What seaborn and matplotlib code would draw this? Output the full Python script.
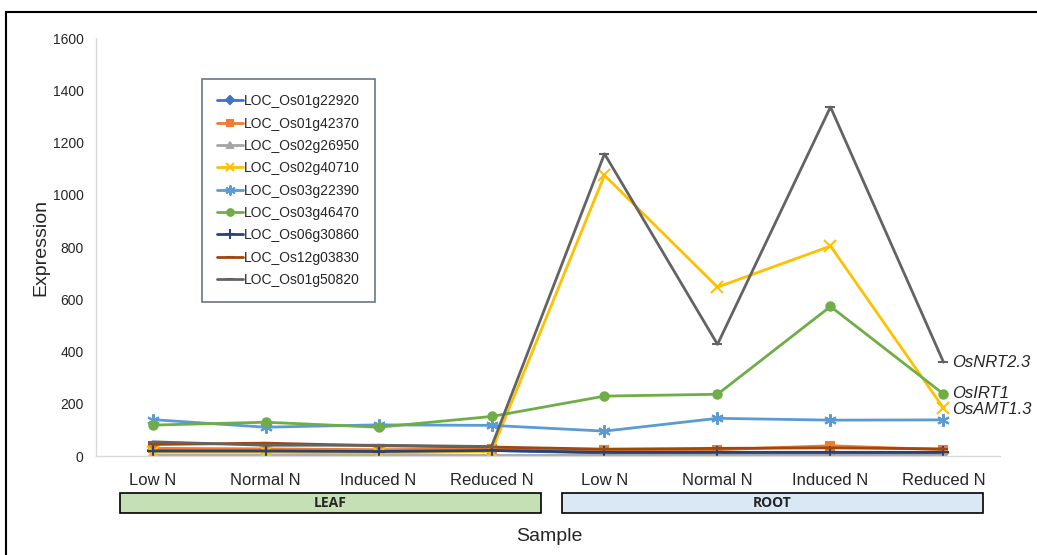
import matplotlib.pyplot as plt
import matplotlib.patches as mpatches
import seaborn as sns
import pandas as pd

sns.set_theme(style="white")
plt.rcParams['font.family'] = ['Liberation Sans', 'DejaVu Sans']

# --- Data ---
samples = ['Low N', 'Normal N', 'Induced N', 'Reduced N',
           'Low N', 'Normal N', 'Induced N', 'Reduced N']
tissues = ['LEAF', 'ROOT']

genes = ['LOC_Os01g22920', 'LOC_Os01g42370', 'LOC_Os02g26950', 'LOC_Os02g40710',
         'LOC_Os03g22390', 'LOC_Os03g46470', 'LOC_Os06g30860', 'LOC_Os12g03830',
         'LOC_Os01g50820']

os01g22920 = [22, 20, 20, 22, 12, 12, 12, 12]
os01g42370 = [30, 28, 25, 28, 25, 25, 40, 25]
os02g26950 = [4, 4, 4, 4, 4, 4, 4, 4]
os02g40710 = [15, 15, 12, 18, 1075, 647, 804, 184]
os03g22390 = [140, 111, 120, 118, 96, 145, 138, 139]
os03g46470 = [119, 130, 111, 152, 230, 237, 573, 238]
os06g30860 = [20, 20, 18, 22, 15, 15, 15, 15]
os12g03830 = [45, 50, 40, 35, 27, 30, 32, 28]
os01g50820 = [55, 42, 42, 37, 1157, 428, 1336, 360]

values = [os01g22920, os01g42370, os02g26950, os02g40710, os03g22390,
          os03g46470, os06g30860, os12g03830, os01g50820]

colors = ['#4472C4', '#ED7D31', '#A5A5A5', '#FFC000', '#5B9BD5',
          '#70AD47', '#264478', '#9E480E', '#636363']
markers = ['D', 's', '^', 'x', (6, 2, 0), 'o', '+', '_', '_']
msizes = [5, 6, 6, 8, 9, 6, 9, 7, 7]

# gene name annotations at the right end
notes = [('OsNRT2.3', 360), ('OsIRT1', 240), ('OsAMT1.3', 178)]

rows = []
for g, v in zip(genes, values):
    for i, val in enumerate(v):
        rows.append({'gene': g, 'pos': i, 'Expression': val})
df = pd.DataFrame(rows)

fig = plt.figure(figsize=(10.37, 5.55), dpi=100)
ax = fig.add_axes([0.0926, 0.178, 0.8717, 0.7535])

for g, c, m, ms in zip(genes, colors, markers, msizes):
    sns.lineplot(data=df[df['gene'] == g], x='pos', y='Expression', ax=ax,
                 color=c, marker=m, markersize=ms, linewidth=2,
                 markeredgecolor=c, markeredgewidth=1.5, label=g)

ax.set_xlim(-0.5, 7.5)
ax.set_ylim(0, 1600)
ax.set_yticks(range(0, 1601, 200))
ax.set_xticks(range(len(samples)))
ax.set_xticklabels(samples, fontsize=12)
ax.tick_params(axis='x', length=0, pad=12)
ax.tick_params(axis='y', length=0, labelsize=10, pad=9)
for s in ['top', 'right']:
    ax.spines[s].set_visible(False)
for s in ['left', 'bottom']:
    ax.spines[s].set_color('#D9D9D9')
    ax.spines[s].set_linewidth(1)
ax.set_xlabel('')
ax.set_ylabel('Expression', fontsize=14, labelpad=2)

# tissue group boxes
for t, x0, fc in zip(tissues, [-0.29, 3.62], ['#C5E0B4', '#DAE8F5']):
    box = mpatches.Rectangle((x0, -0.135), 3.73, 0.047, transform=ax.get_xaxis_transform(),
                             facecolor=fc, edgecolor='black', linewidth=1.2, clip_on=False)
    ax.add_patch(box)
    ax.text(x0 + 3.73 / 2, -0.112, t, transform=ax.get_xaxis_transform(),
            ha='center', va='center', fontsize=10, fontweight='bold',
            family=['Open Sans', 'DejaVu Sans'])

fig.text(0.53, 0.033, 'Sample', ha='center', va='center', fontsize=14)

for name, y in notes:
    ax.text(7.08, y, name, ha='left', va='center', fontsize=12, style='italic')

leg = ax.legend(loc='upper left', bbox_to_anchor=(0.117, 0.902), borderaxespad=0,
                fontsize=10, frameon=True, fancybox=False, handlelength=1.9,
                handletextpad=0.05, labelspacing=0.6, borderpad=1.1, markerscale=0.8)
leg.get_frame().set_edgecolor('#44546A')
leg.get_frame().set_linewidth(1.2)

# outer frame
fig.patches.append(mpatches.Rectangle((6 / 1037, -0.1), 1.2, 1.1 - 12 / 555,
                                      transform=fig.transFigure, fill=False,
                                      edgecolor='black', linewidth=1.5))

fig.savefig('out.png', dpi=100)
